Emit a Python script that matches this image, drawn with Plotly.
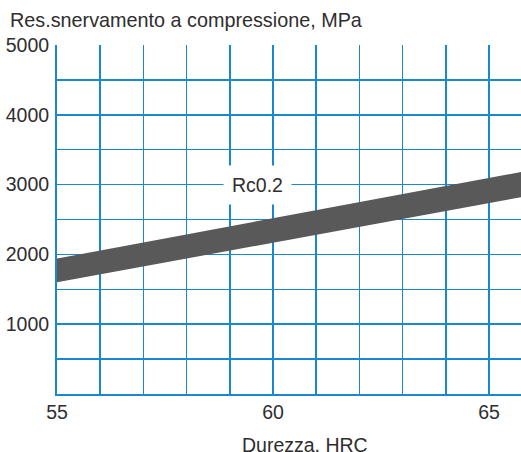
import plotly.graph_objects as go

# Data
hrc = [55, 66]
rc_lower = [1600, 2850]
rc_upper = [1940, 3210]
label_text = "Rc0.2"
label_x = 59.65
label_y = 3000
y_ticks = [1000, 2000, 3000, 4000, 5000]
x_ticks = [55, 60, 65]

GRID = "#1a88d0"
TXT = "#2e2e2e"
FONT = "Liberation Sans, Arial, sans-serif"
FS = 19.5

fig = go.Figure()
fig.add_trace(go.Scatter(
    x=hrc + hrc[::-1],
    y=rc_lower + rc_upper[::-1],
    fill="toself",
    fillcolor="#595959",
    line=dict(width=0, color="#595959"),
    mode="lines",
    hoverinfo="skip",
    showlegend=False,
))

fig.add_annotation(
    x=label_x, y=label_y, text=label_text, showarrow=False,
    font=dict(family=FONT, size=FS, color=TXT),
    bgcolor="white", borderpad=8,
)
fig.add_annotation(
    xref="paper", yref="paper", x=-0.105, y=1.072, xanchor="left", yanchor="middle",
    text="Res.snervamento a compressione, MPa", showarrow=False,
    font=dict(family=FONT, size=19.8, color=TXT),
)
fig.add_annotation(
    xref="paper", yref="paper", x=0.534, y=-0.146, xanchor="center", yanchor="middle",
    text="Durezza, HRC", showarrow=False,
    font=dict(family=FONT, size=FS, color=TXT),
)

fig.update_layout(
    width=521, height=452,
    margin=dict(l=57, r=0, t=45, b=58),
    paper_bgcolor="white", plot_bgcolor="white",
    font=dict(family=FONT, size=FS, color=TXT),
    hovermode=False,
    xaxis=dict(
        range=[55, 65.74], tickvals=x_ticks, ticks="",
        showgrid=False, zeroline=False,
        showline=True, linecolor=GRID, linewidth=2,
        minor=dict(dtick=1, tick0=55, showgrid=True, gridcolor=GRID, gridwidth=1.5),
        tickfont=dict(size=FS, color=TXT),
    ),
    yaxis=dict(
        range=[0, 5000], tickvals=y_ticks, ticks="",
        showgrid=True, gridcolor=GRID, gridwidth=1.5, zeroline=False,
        showline=True, linecolor=GRID, linewidth=2,
        minor=dict(dtick=500, tick0=0, showgrid=True, gridcolor=GRID, gridwidth=1.5),
        tickfont=dict(size=FS, color=TXT),
        ticklabelstandoff=2,
    ),
)

fig.write_html(
    "out.html",
    config={"displayModeBar": False, "staticPlot": True},
    post_script="document.body.style.margin='0';document.body.style.overflow='hidden';",
)
